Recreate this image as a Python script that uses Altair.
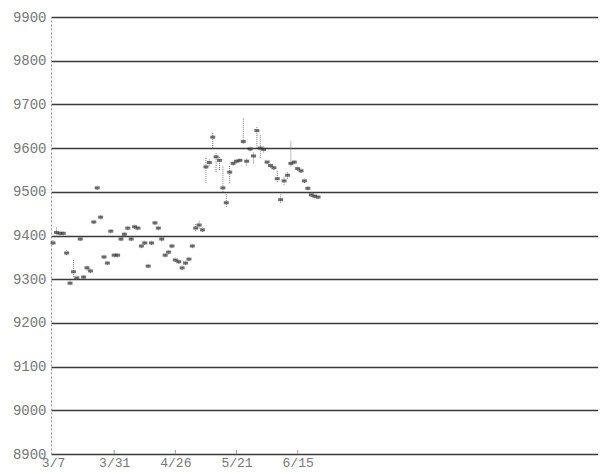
import altair as alt
import pandas as pd

# daily bars (sequential trading-day index)
close = [9383, 9407, 9405, 9405, 9360, 9291, 9317, 9303, 9392, 9305,
         9326, 9319, 9431, 9509, 9442, 9351, 9337, 9410, 9355, 9355,
         9392, 9403, 9417, 9392, 9420, 9417, 9376, 9383, 9330, 9383,
         9429, 9417, 9392, 9355, 9362, 9376, 9344, 9340, 9326, 9337,
         9346, 9376, 9417, 9424, 9413, 9557, 9567, 9625, 9580, 9572,
         9509, 9475, 9545, 9565, 9570, 9572, 9615, 9570, 9598, 9582,
         9640, 9600, 9597, 9568, 9560, 9555, 9530, 9482, 9525, 9538,
         9565, 9568, 9553, 9548, 9525, 9508, 9493, 9490, 9488]
low = [9378, 9402, 9400, 9400, 9355, 9286, 9305, 9298, 9387, 9300,
       9320, 9314, 9426, 9504, 9437, 9346, 9332, 9405, 9350, 9350,
       9387, 9398, 9412, 9387, 9415, 9412, 9371, 9378, 9325, 9378,
       9424, 9412, 9387, 9350, 9357, 9371, 9339, 9335, 9321, 9332,
       9341, 9371, 9410, 9416, 9408, 9520, 9560, 9600, 9545, 9550,
       9500, 9465, 9520, 9560, 9565, 9567, 9610, 9560, 9593, 9565,
       9600, 9578, 9590, 9563, 9555, 9550, 9522, 9475, 9515, 9530,
       9558, 9563, 9548, 9543, 9520, 9503, 9488, 9485, 9483]
high = [9390, 9420, 9410, 9410, 9366, 9297, 9344, 9308, 9397, 9310,
        9331, 9324, 9436, 9514, 9447, 9356, 9342, 9415, 9360, 9360,
        9397, 9408, 9422, 9397, 9425, 9422, 9381, 9388, 9335, 9388,
        9434, 9422, 9397, 9360, 9367, 9381, 9349, 9345, 9331, 9342,
        9351, 9381, 9428, 9435, 9418, 9580, 9575, 9637, 9590, 9582,
        9560, 9495, 9560, 9570, 9575, 9577, 9670, 9578, 9603, 9590,
        9650, 9630, 9605, 9573, 9565, 9560, 9550, 9495, 9535, 9545,
        9615, 9573, 9558, 9553, 9530, 9513, 9498, 9495, 9493]

tick_pos = [0, 18, 36, 54, 72]
tick_labels = ["3/7", "3/31", "4/26", "5/21", "6/15"]
y_ticks = [8900, 9000, 9100, 9200, 9300, 9400, 9500, 9600, 9700, 9800, 9900]

df = pd.DataFrame({"day": list(range(len(close))), "close": close,
                   "low": low, "high": high})
ticks_df = pd.DataFrame({"pos": tick_pos, "lab": tick_labels})

label_expr = "{" + ",".join(f"'{p}':'{l}'" for p, l in zip(tick_pos, tick_labels)) + "}[datum.value]"

xscale = alt.Scale(domain=[-0.6, 160.4], nice=False, zero=False)
yscale = alt.Scale(domain=[8900, 9900], nice=False, zero=False)

font = "Liberation Mono"

xaxis = alt.Axis(values=tick_pos, labelExpr=label_expr, title=None, grid=False,
                 domain=False, ticks=False, labelFont=font, labelFontSize=13,
                 labelColor="#777", labelPadding=2, labelBaseline="top")
yaxis = alt.Axis(values=y_ticks, format="d", title=None, grid=True,
                 gridColor="#3a3a3a", gridWidth=1.6, domain=True,
                 domainColor="#999", domainDash=[2, 2], ticks=False,
                 labelFont=font, labelFontSize=14, labelColor="#777",
                 labelPadding=5)

base = alt.Chart(df)
rng = base.mark_rule(color="#777", strokeWidth=1, strokeDash=[1, 1]).encode(
    x=alt.X("day:Q", scale=xscale, axis=xaxis),
    y=alt.Y("low:Q", scale=yscale, axis=yaxis),
    y2="high:Q",
)
cls = base.mark_tick(color="#333", orient="horizontal", size=5, thickness=3).encode(
    x=alt.X("day:Q", scale=xscale),
    y=alt.Y("close:Q", scale=yscale),
)
xt = alt.Chart(ticks_df).transform_filter("datum.pos > 0").mark_rule(
    color="#999", strokeWidth=1).encode(
    x=alt.X("pos:Q", scale=xscale),
    y=alt.value(433),
    y2=alt.value(437),
)

chart = alt.layer(rng, cls, xt).properties(
    width=547, height=437,
    autosize=alt.AutoSizeParams(type="none"),
    padding={"left": 43, "top": 9, "right": 0, "bottom": 16},
    background="white",
).configure_view(stroke=None)

chart.save("out.html", embed_options={"renderer": "svg", "actions": False})
